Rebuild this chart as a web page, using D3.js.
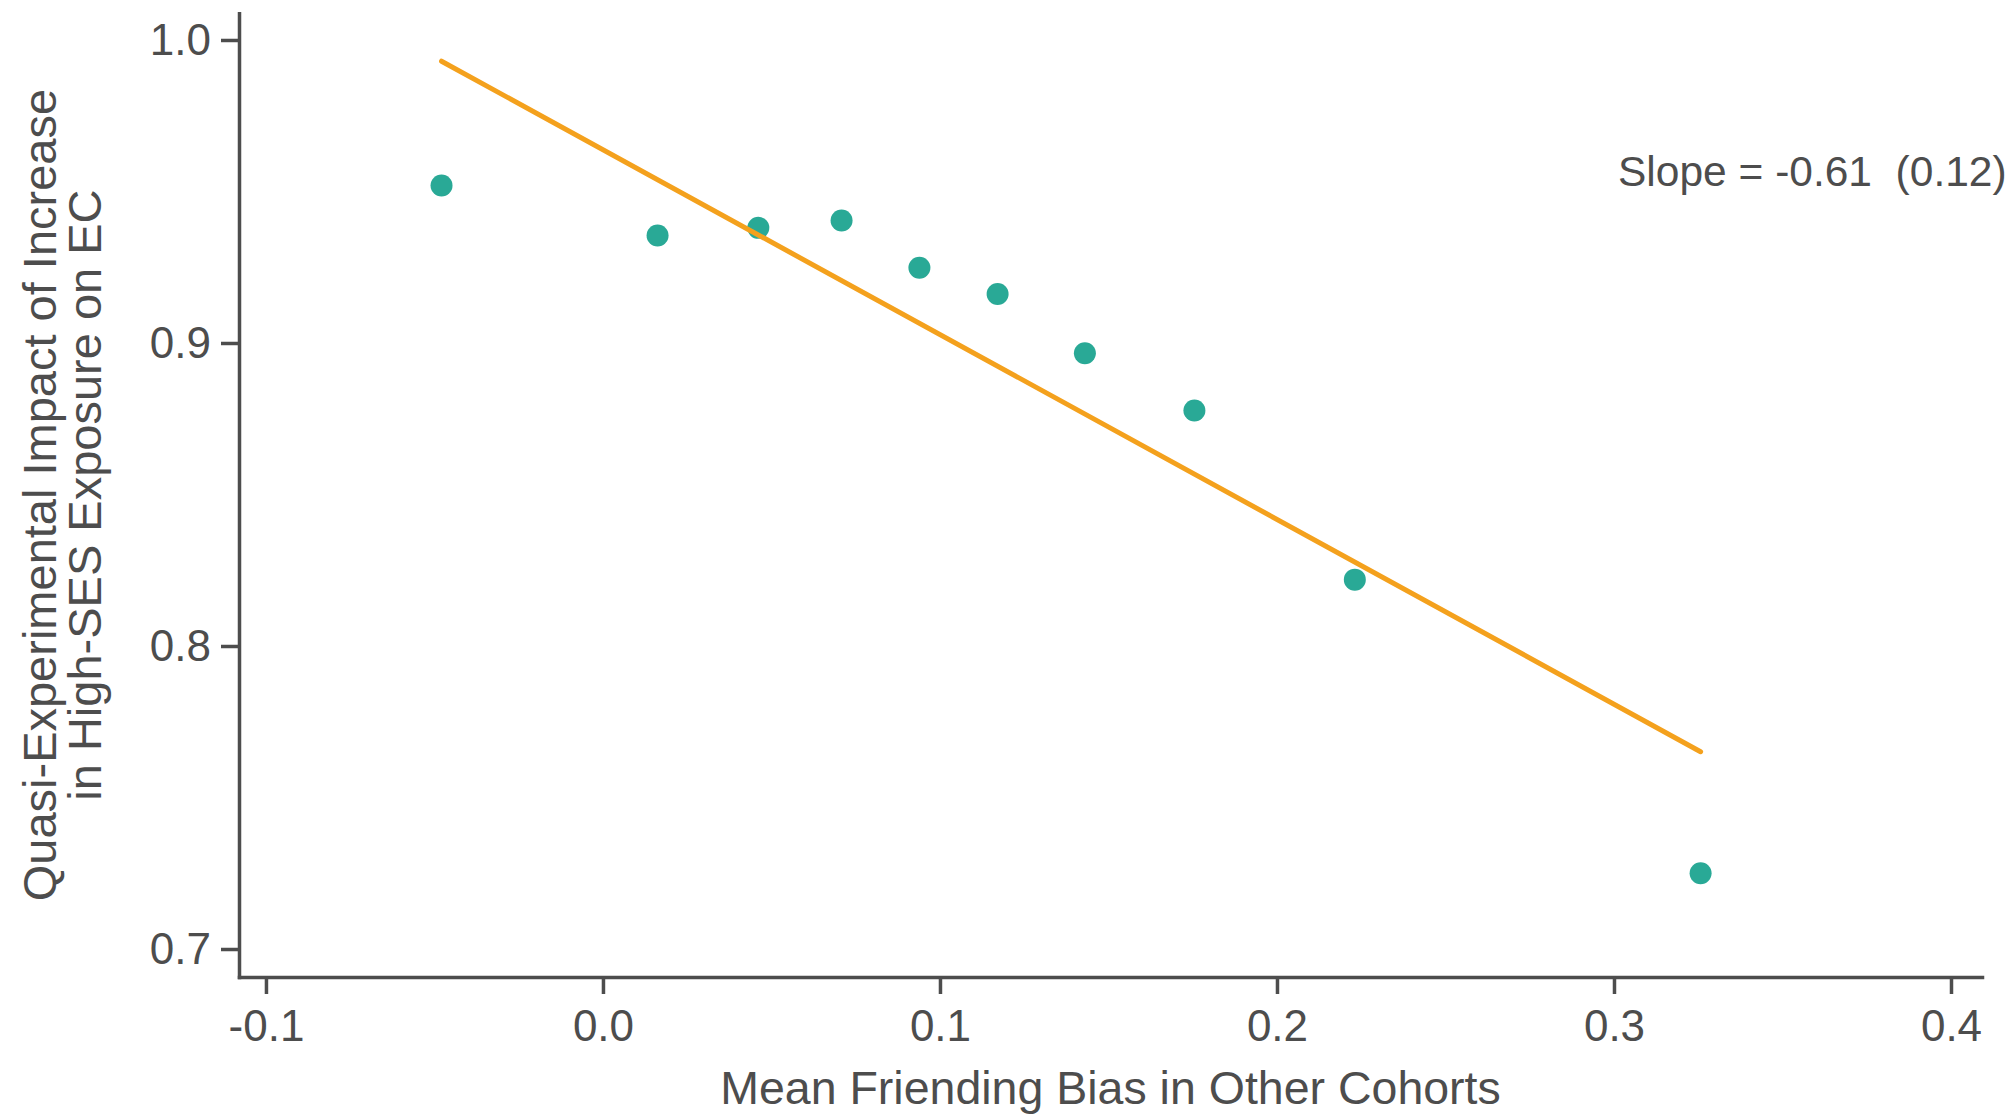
<!DOCTYPE html>
<html>
<head>
<meta charset="utf-8">
<script src="https://cdn.jsdelivr.net/npm/d3@7"></script>
<style>
  html, body { margin: 0; padding: 0; background: #ffffff; }
  svg { display: block; }
  text { font-family: "Liberation Sans", Arial, Helvetica, sans-serif; fill: #4d4d4d; }
</style>
</head>
<body>
<svg id="chart" width="2010" height="1117"></svg>
<script>
// Binned means: friending bias in other cohorts vs. quasi-experimental EC impact
const friendingBias = [-0.0479, 0.0162, 0.0461, 0.0708, 0.0939, 0.1171, 0.1430, 0.1755, 0.2231, 0.3257];
const ecImpact      = [0.9520, 0.9355, 0.9380, 0.9404, 0.9248, 0.9162, 0.8966, 0.8777, 0.8219, 0.7250];

// Regression slope and its standard error
const fitSlope = -0.61;
const fitSE = 0.12;

const xTicks = [-0.1, 0.0, 0.1, 0.2, 0.3, 0.4];
const yTicks = [0.7, 0.8, 0.9, 1.0];

const xTitle = "Mean Friending Bias in Other Cohorts";
const yTitleLines = ["Quasi-Experimental Impact of Increase", "in High-SES Exposure on EC"];

const axisColor = "#4d4d4d";
const pointColor = "#29a996";
const lineColor = "#f4a11d";

const svg = d3.select("#chart");

const x = d3.scaleLinear().domain([-0.108, 0.4092]).range([239, 1982]);
const y = d3.scaleLinear().domain([0.69076, 1.00884]).range([977, 13.2]);

// Tick labels use a plain hyphen for negatives
const fmt1 = d => d3.format(".1f")(d).replace("\u2212", "-");

// Axes
const xAxis = d3.axisBottom(x)
  .tickValues(xTicks)
  .tickFormat(fmt1)
  .tickSizeInner(17)
  .tickSizeOuter(0)
  .tickPadding(16);

const yAxis = d3.axisLeft(y)
  .tickValues(yTicks)
  .tickFormat(fmt1)
  .tickSizeInner(18)
  .tickSizeOuter(0)
  .tickPadding(10);

function styleAxis(g) {
  g.select(".domain").attr("stroke", axisColor).attr("stroke-width", 3.5).attr("stroke-linecap", "square");
  g.selectAll(".tick line").attr("stroke", axisColor).attr("stroke-width", 3.5);
  g.selectAll(".tick text")
    .attr("fill", axisColor)
    .style("font-family", '"Liberation Sans", Arial, Helvetica, sans-serif')
    .style("font-size", "44px");
}

svg.append("g")
  .attr("transform", "translate(0,977)")
  .call(xAxis)
  .call(styleAxis);

svg.append("g")
  .attr("transform", "translate(239,0)")
  .call(yAxis)
  .call(styleAxis);

// Axis titles
svg.append("text")
  .attr("x", (x.range()[0] + x.range()[1]) / 2)
  .attr("y", 1104)
  .attr("text-anchor", "middle")
  .style("font-size", "46.5px")
  .text(xTitle);

const yTitle = svg.append("g")
  .attr("transform", `translate(0,${(y.range()[0] + y.range()[1]) / 2}) rotate(-90)`);
yTitle.selectAll("text")
  .data(yTitleLines)
  .join("text")
  .attr("x", 0)
  .attr("y", (d, i) => 56 + i * 45)
  .attr("text-anchor", "middle")
  .style("font-size", "47px")
  .text(d => d);

// Points
const points = friendingBias.map((fx, i) => ({ fx, ec: ecImpact[i] }));
svg.append("g")
  .selectAll("circle")
  .data(points)
  .join("circle")
  .attr("cx", d => x(d.fx))
  .attr("cy", d => y(d.ec))
  .attr("r", 11)
  .attr("fill", pointColor);

// Fitted line through the centroid with the reported slope
const meanX = d3.mean(friendingBias);
const meanY = d3.mean(ecImpact);
const fitIntercept = meanY - fitSlope * meanX;
const [xMin, xMax] = d3.extent(friendingBias);
const fitLine = [xMin, xMax].map(v => ({ fx: v, ec: fitIntercept + fitSlope * v }));

svg.append("path")
  .datum(fitLine)
  .attr("fill", "none")
  .attr("stroke", lineColor)
  .attr("stroke-width", 5)
  .attr("stroke-linecap", "round")
  .attr("d", d3.line().x(d => x(d.fx)).y(d => y(d.ec)));

// Slope annotation
svg.append("text")
  .attr("x", 1618)
  .attr("y", 186)
  .style("font-size", "42.5px")
  .style("white-space", "pre")
  .attr("xml:space", "preserve")
  .text(`Slope = ${fitSlope.toFixed(2)}  (${fitSE.toFixed(2)})`);
</script>
</body>
</html>
